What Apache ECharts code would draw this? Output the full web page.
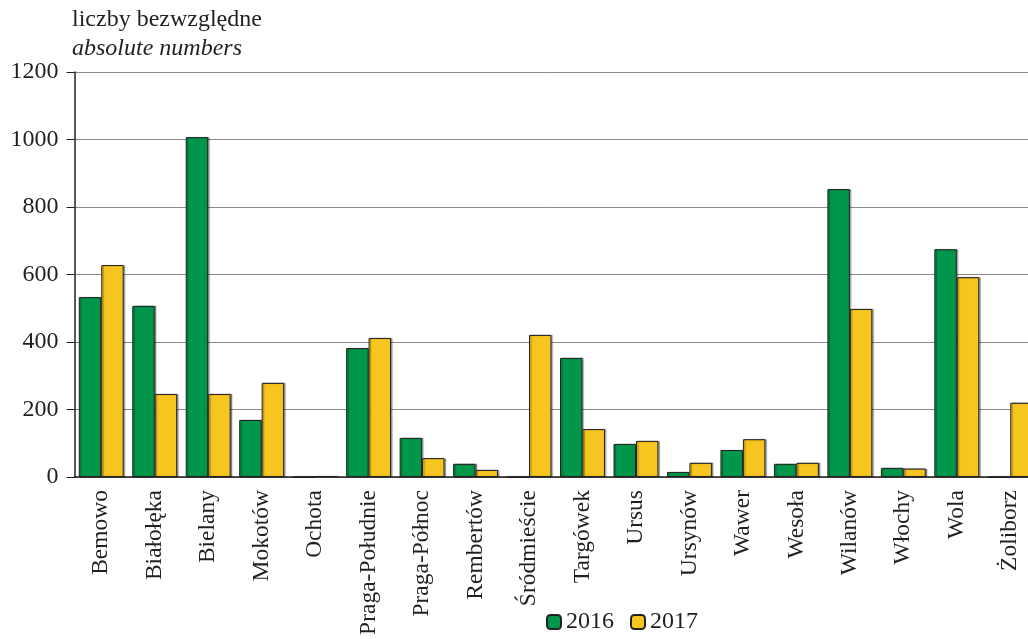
<!DOCTYPE html>
<html>
<head>
<meta charset="utf-8">
<script src="https://cdn.jsdelivr.net/npm/echarts@6/dist/echarts.min.js"></script>
<style>
  html, body { margin: 0; padding: 0; background: #fff; }
  #chart { width: 1028px; height: 639px; }
</style>
</head>
<body>
<div id="chart"></div>
<script>
// dzielnice Warszawy
const districts = ['Bemowo', 'Białołęka', 'Bielany', 'Mokotów', 'Ochota', 'Praga-Południe', 'Praga-Północ',
  'Rembertów', 'Śródmieście', 'Targówek', 'Ursus', 'Ursynów', 'Wawer', 'Wesoła', 'Wilanów', 'Włochy', 'Wola', 'Żoliborz'];
const values2016 = [533, 507, 1007, 169, 0, 382, 116, 39, 0, 353, 98, 15, 80, 39, 853, 27, 675, 0];
const values2017 = [628, 246, 246, 279, 3, 412, 56, 21, 421, 142, 107, 42, 112, 42, 498, 25, 592, 220];
const yTicks = [0, 200, 400, 600, 800, 1000, 1200];

const serif = 'Liberation Serif';
const ink = '#231f20';
const barStyle = (color) => ({
  color, borderColor: '#222', borderWidth: 1,
  shadowColor: 'rgba(0,0,0,0.35)', shadowOffsetX: 1.5, shadowOffsetY: 0, shadowBlur: 1
});

const chart = echarts.init(document.getElementById('chart'));
chart.setOption({
  animation: false,
  textStyle: { fontFamily: serif, color: ink },
  graphic: [
    { type: 'text', left: 72, top: 8, style: { text: 'liczby bezwzględne', font: '24px "Liberation Serif"', fill: ink } },
    { type: 'text', left: 72, top: 37, style: { text: 'absolute numbers', font: 'italic 24px "Liberation Serif"', fill: ink } }
  ],
  legend: {
    bottom: 0, left: 541,
    itemWidth: 14, itemHeight: 14, itemGap: 16,
    textStyle: { fontFamily: serif, fontSize: 24, color: ink },
    data: ['2016', '2017']
  },
  // plot runs past the right edge, the last district is cut off as in the source
  grid: { left: 74.5, right: -9, top: 72, bottom: 162, outerBoundsMode: 'none' },
  xAxis: {
    type: 'category', data: districts,
    axisLine: { lineStyle: { color: ink, width: 1.5 } },
    axisTick: { show: false },
    axisLabel: { rotate: 90, interval: 0, margin: 13, fontFamily: serif, fontSize: 23.5, color: ink }
  },
  yAxis: {
    type: 'value', min: yTicks[0], max: yTicks[yTicks.length - 1], interval: 200,
    axisLine: { show: true, lineStyle: { color: ink, width: 1.5 } },
    axisTick: { show: true, length: 8, lineStyle: { color: ink } },
    axisLabel: { margin: 16, fontFamily: serif, fontSize: 24, color: ink, formatter: (v) => String(v) },
    splitLine: { lineStyle: { color: '#8a8a8a', width: 1 } }
  },
  series: [
    { name: '2016', type: 'bar', data: values2016, barGap: '0%', barCategoryGap: '16%', itemStyle: barStyle('#00974a') },
    { name: '2017', type: 'bar', data: values2017, barGap: '0%', barCategoryGap: '16%', itemStyle: barStyle('#f7c520') }
  ]
});
</script>
</body>
</html>
